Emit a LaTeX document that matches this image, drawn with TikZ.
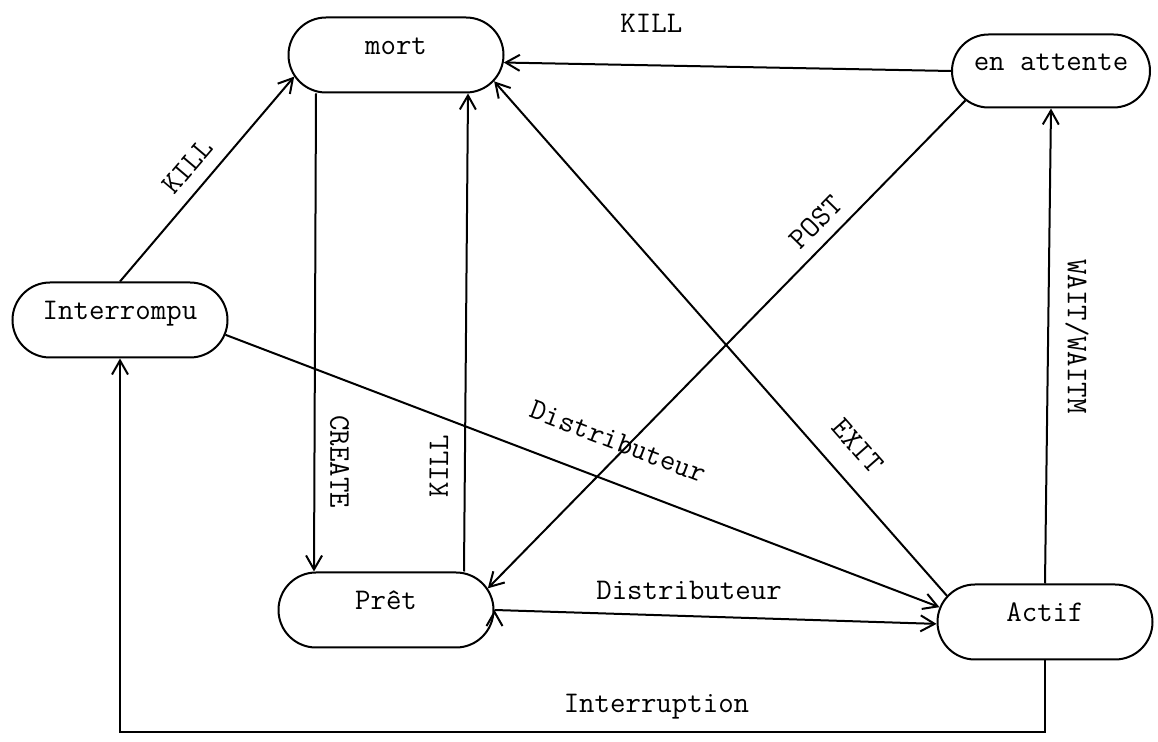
\documentclass[tikz,border=0pt]{standalone}
\usetikzlibrary{arrows.meta, shapes.misc}
\tikzset{every picture/.style={line width=1pt}}

\begin{document}
\begin{tikzpicture}[x=0.5pt, y=-0.5pt, -, >={Straight Barb[length=7pt,width=8pt]},
        font=\ttfamily\fontsize{15}{17}\selectfont,
        etat/.style={rounded rectangle, draw, minimum width=107.5pt, minimum height=37.5pt,
            inner sep=0pt, text height=10pt, text depth=10pt},
        lbl/.style={inner sep=2pt}]
        \useasboundingbox (0,0) rectangle (1158,742);
        \node[etat] (mort) at (396,55) {mort};
        \node[etat, minimum width=99pt, minimum height=36.5pt] (attente) at (1051,71) {en attente};
        \node[etat] (interrompu) at (120,320) {Interrompu};
        \node[etat] (pret) at (386,610) {Prêt};
        \node[etat] (actif) at (1045,622) {Actif};
        \draw[->]
            (interrompu.north) edge node[lbl, sloped, above=4.3pt, pos=.49] {KILL} (mort.192)
            (attente.west) edge node[lbl, above=13.7pt, pos=.67] {KILL} (mort.-4)
            ([xshift=-40pt]mort.south) edge node[lbl, pos=.77, xshift=12.5pt, rotate=-90] {CREATE} ([xshift=-36pt]pret.north)
            ([xshift=39pt]pret.north) edge node[lbl, sloped, above=5.9pt, pos=.22] {KILL} ([xshift=36pt]mort.south)
            (attente.199) edge node[lbl, sloped, above=3.7pt, pos=.28] {POST} (pret.12)
            (actif.165) edge node[lbl, sloped, above=9pt, pos=.25] {EXIT} (mort.-15)
            (actif.north) edge node[lbl, pos=.52, xshift=14.5pt, rotate=-90] {WAIT/WAITM} (attente.south)
            (interrompu.-8) edge node[lbl, sloped, above=13pt, pos=.53] {Distributeur} (actif.172)
            (pret.east) edge node[lbl, above=5.9pt, pos=.44] {Distributeur} (actif.181)
            ;
        % retour vers Interrompu par le bas
        \draw[->] (actif.south) -- ++(0,72) -| node[lbl, above=4pt, pos=.21] {Interruption} (interrompu.south);
    \end{tikzpicture}
\end{document}
